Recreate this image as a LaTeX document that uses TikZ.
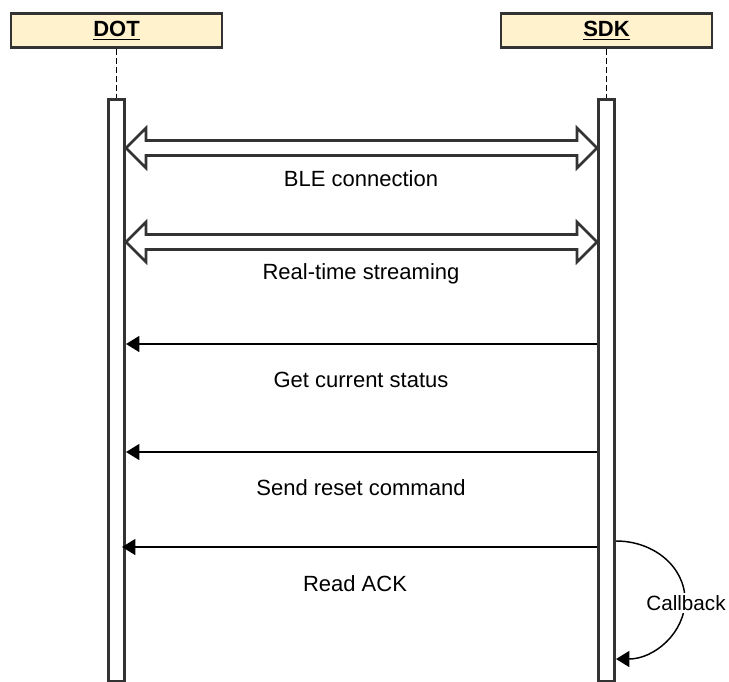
\documentclass[tikz,border=0pt]{standalone}
\usepackage{fontspec}
\setmainfont{Liberation Sans}
\usetikzlibrary{arrows.meta,calc,positioning}
\definecolor{boxfill}{HTML}{FFF2CC}
\definecolor{edgegray}{HTML}{333333}

% hollow two-headed arrow between two points on the same row
\newcommand{\fatarrow}[2]{%
  \draw[fat] let \p1=(#1), \p2=(#2) in
    (\x1,\y1) -- (\x1+15pt,\y1+15pt) -- (\x1+15pt,\y1+5.6pt) -- (\x2-15pt,\y1+5.6pt)
    -- (\x2-15pt,\y1+15pt) -- (\x2,\y1) -- (\x2-15pt,\y1-15pt) -- (\x2-15pt,\y1-5.6pt)
    -- (\x1+15pt,\y1-5.6pt) -- (\x1+15pt,\y1-15pt) -- cycle;}

\begin{document}
\begin{tikzpicture}
[x=0.75pt, y=-0.75pt,
every node/.style={font=\fontsize{16.5}{19}\selectfont},
head/.style={draw=edgegray, line width=1.6pt, fill=boxfill, minimum width=158pt,
  minimum height=25.5pt, font=\fontsize{16.5}{19}\selectfont\bfseries},
bar/.style={draw=edgegray, line width=2.3pt, fill=white, minimum width=12pt,
  minimum height=437pt, inner sep=0pt},
life/.style={dash pattern=on 4.5pt off 2.3pt, line width=1.3pt},
fat/.style={edgegray, line width=2pt, fill=white, line join=miter},
msg/.style={-{Triangle[length=10pt,width=12pt]}, line width=1.1pt},
lbl/.style={anchor=base}
]
  \useasboundingbox (0,0) rectangle (729,682);

  \node[head] (dot) at (116.5,30.5) {\underline{DOT}};
  \node[head] (sdk) at (606.5,30.5) {\underline{SDK}};
  \node[bar]  (dotbar) at (116.5,390.5) {};
  \node[bar]  (sdkbar) at (606.5,390.5) {};
  \draw[life] (dot) -- (dotbar);
  \draw[life] (sdk) -- (sdkbar);

  % message rows
  \coordinate (r1) at (0,148);
  \coordinate (r2) at (0,242);
  \coordinate (r3) at (0,344);
  \coordinate (r4) at (0,452);
  \coordinate (r5) at (0,547);
  \coordinate (r6) at (0,541);
  \coordinate (r7) at (0,659);
  \coordinate (cbturn) at (685,600);

  \fatarrow{dotbar.east |- r1}{sdkbar.west |- r1}
  \fatarrow{dotbar.east |- r2}{sdkbar.west |- r2}

  \path
    (sdkbar.west |- r3) edge[msg] (dotbar.east |- r3)
    (sdkbar.west |- r4) edge[msg] (dotbar.east |- r4)
    (sdkbar.west |- r5) edge[msg] ($(dotbar.east |- r5)+(-4,0)$)
    ;
  \draw[msg] (sdkbar.east |- r6) .. controls +(38,0) and +(0,-33) .. (cbturn)
    .. controls +(0,33) and +(38,0) .. (sdkbar.east |- r7);

  \node[lbl] (l1) at (361,186) {BLE connection};
  \node[lbl] (l2) at (361,279) {Real-time streaming};
  \node[lbl] (l3) at (361,387) {Get current status};
  \node[lbl] (l4) at (361,495) {Send reset command};
  \node[lbl] (l5) at (355,591) {Read ACK};
  \node[fill=white, inner sep=1.5pt, font=\fontsize{15.5}{17}\selectfont] (cbl) at (686,603) {Callback};
\end{tikzpicture}
\end{document}
